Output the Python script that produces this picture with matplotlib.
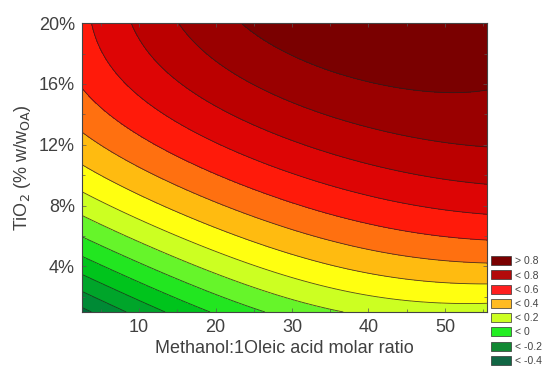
import matplotlib
matplotlib.use("Agg")
import matplotlib.pyplot as plt
import numpy as np
from matplotlib.colors import ListedColormap, BoundaryNorm
from matplotlib.patches import Patch
from matplotlib.ticker import FuncFormatter, MultipleLocator

plt.rcParams["font.family"] = ["Liberation Sans", "DejaVu Sans"]

# contour crossings: (molar ratio, TiO2 %, level)
left_y = [1.3, 2.1, 3.3, 4.7, 6.0, 7.45, 8.6, 10.6, 13.0, 16.1]
left_z = [-0.4, -0.3, -0.2, -0.1, 0.0, 0.1, 0.2, 0.3, 0.4, 0.5]
mid_y = [2.35, 3.66, 5.16, 6.8, 8.43, 10.85]
mid_z = [0.1, 0.2, 0.3, 0.4, 0.5, 0.6]
col45_y = [1.7, 3.0, 4.5, 6.0, 7.6, 9.7, 12.2, 14.8]
col45_z = [0.2, 0.3, 0.4, 0.5, 0.6, 0.7, 0.8, 0.9]
right_y = [1.6, 3.0, 4.3, 5.8, 7.6, 9.7, 12.2, 16.1]
right_z = [0.2, 0.3, 0.4, 0.5, 0.6, 0.7, 0.8, 0.9]
top_x = [3.3, 8.8, 15.6, 23.8]
top_z = [0.6, 0.7, 0.8, 0.9]
bottom_x = [4.8, 8.8, 13.1, 19.2, 26.7, 32.7]
bottom_z = [-0.4, -0.3, -0.2, -0.1, 0.0, 0.1]

x_range = [2.5, 55.5]   # methanol : oleic acid molar ratio
y_range = [1.0, 20.0]   # TiO2, % w/w OA

levels = [-0.5, -0.4, -0.3, -0.2, -0.1, 0.0, 0.1, 0.2, 0.3, 0.4, 0.5, 0.6, 0.7, 0.8, 0.9, 1.05]
band_colors = ["#006a3a", "#008a35", "#00a52a", "#00c41c", "#22e620", "#66f52a",
               "#ccff22", "#ffff10", "#ffbb10", "#ff7010", "#ff1a0a", "#dd0505",
               "#bb0000", "#9a0000", "#7a0000"]

legend_labels = ["> 0.8", "< 0.8", "< 0.6", "< 0.4", "< 0.2", "< 0", "< -0.2", "< -0.4"]
legend_colors = ["#7a0000", "#b30a0a", "#ff1f1f", "#ffbb22", "#ccff22", "#22ee22", "#118833", "#116644"]

x_ticks = [10, 20, 30, 40, 50]
y_ticks = [4, 8, 12, 16, 20]

# gather read points and fit a biquadratic response surface through them
px, py, pz = [], [], []
for xv, ylist, zlist in [(x_range[0], left_y, left_z), (29.0, mid_y, mid_z),
                         (45.0, col45_y, col45_z), (x_range[1], right_y, right_z)]:
    px += [xv] * len(ylist); py += ylist; pz += zlist
px += top_x; py += [y_range[1]] * len(top_x); pz += top_z
px += bottom_x; py += [y_range[0]] * len(bottom_x); pz += bottom_z
px, py, pz = np.array(px), np.array(py), np.array(pz)


def basis(x, y):
    return np.stack([x ** i * y ** j for i in range(3) for j in range(3)], axis=-1)


coef, *_ = np.linalg.lstsq(basis(px, py), pz, rcond=None)

xs = np.linspace(x_range[0], x_range[1], 300)
ys = np.linspace(y_range[0], y_range[1], 300)
X, Y = np.meshgrid(xs, ys)
Z = basis(X, Y) @ coef

fig = plt.figure(figsize=(5.49, 3.67), dpi=100)
ax = fig.add_axes([0.149, 0.150, 0.738, 0.787])

cmap = ListedColormap(band_colors)
norm = BoundaryNorm(levels, cmap.N)
ax.contourf(X, Y, Z, levels=levels, cmap=cmap, norm=norm, extend="both")
ax.contour(X, Y, Z, levels=levels[1:-1], colors="#202020", linewidths=0.6,
           linestyles="solid", alpha=0.8)

ax.set_xlim(*x_range)
ax.set_ylim(*y_range)
ax.set_xticks(x_ticks)
ax.set_yticks(y_ticks)
ax.xaxis.set_minor_locator(MultipleLocator(5))
ax.yaxis.set_minor_locator(MultipleLocator(2))
ax.yaxis.set_major_formatter(FuncFormatter(lambda v, p: f"{v:.0f}%"))
ax.tick_params(which="both", direction="in", top=True, right=True, width=0.5,
               colors="#555555", labelcolor="#404040", labelsize=13, pad=5)
ax.tick_params(which="major", length=3)
ax.tick_params(which="minor", length=2)
for s in ax.spines.values():
    s.set_linewidth(0.8)
    s.set_color("#444444")

ax.set_xlabel("Methanol:1Oleic acid molar ratio", fontsize=13, color="#404040", labelpad=3)
ax.set_ylabel("TiO$_2$ (% w/w$_{\\mathrm{OA}}$)", fontsize=13, color="#404040", labelpad=4)

handles = [Patch(facecolor=c, edgecolor="#333333", linewidth=0.5) for c in legend_colors]
fig.legend(handles, legend_labels, loc="lower left", bbox_to_anchor=(0.893, 0.0),
           frameon=False, fontsize=7.5, labelcolor="#444444",
           handlelength=1.9, handleheight=0.95, labelspacing=0.4, handletextpad=0.35,
           borderaxespad=0.0, borderpad=0.1)

fig.savefig("out.png", dpi=100)
